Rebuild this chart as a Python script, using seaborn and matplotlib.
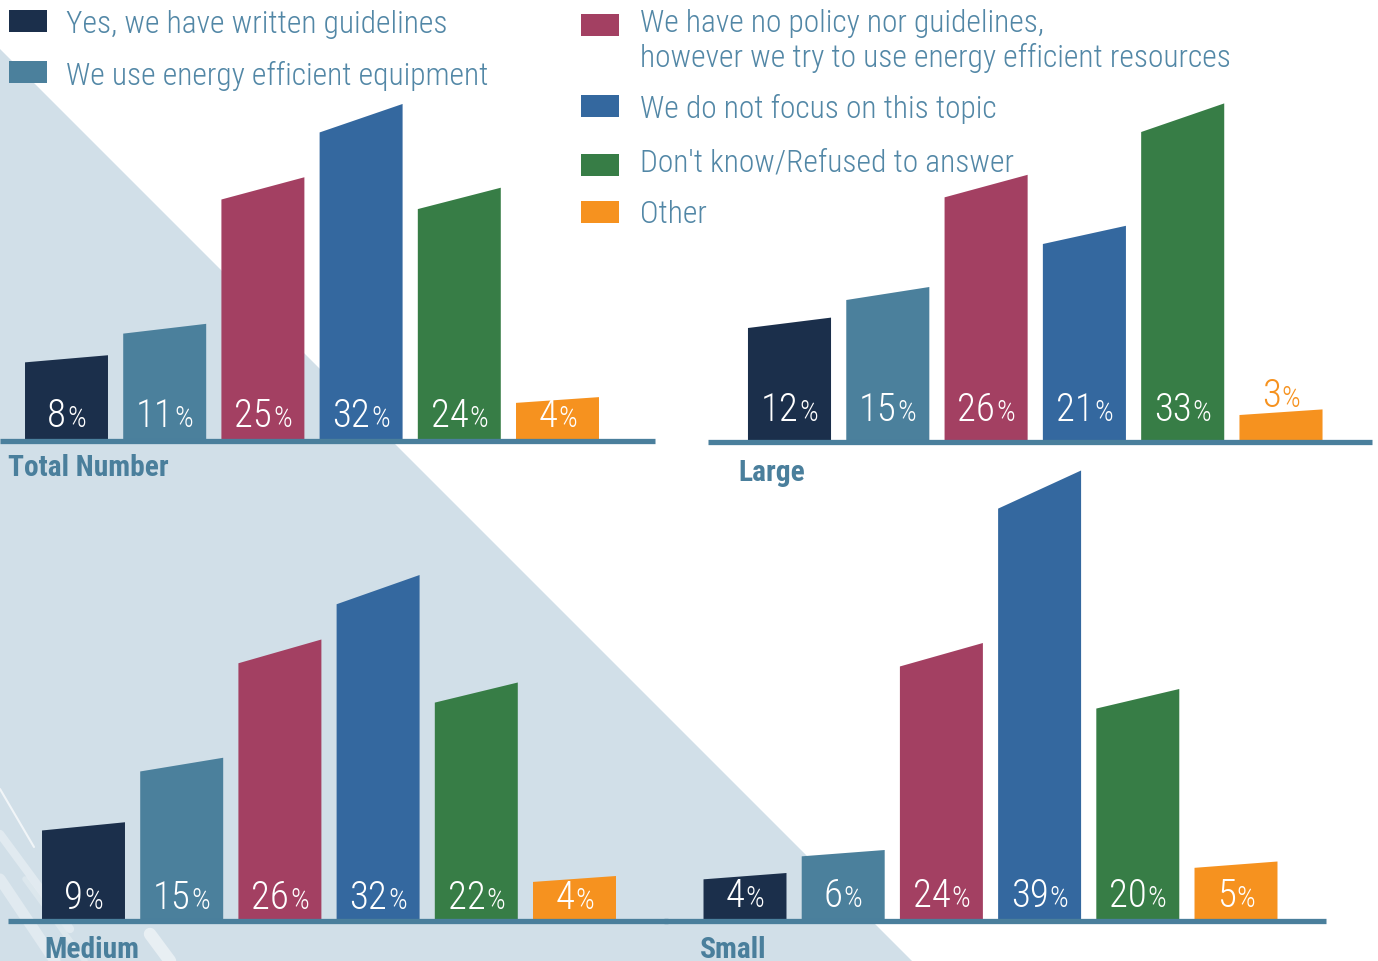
import matplotlib
matplotlib.use("Agg")
import matplotlib.pyplot as plt
import seaborn as sns
import pandas as pd
from matplotlib import font_manager as fm
from matplotlib.patches import Polygon, Rectangle
from matplotlib.lines import Line2D

# ---------------- data ----------------
categories = [
    "Yes, we have written guidelines",
    "We use energy efficient equipment",
    "We have no policy nor guidelines,\nhowever we try to use energy efficient resources",
    "We do not focus on this topic",
    "Don't know/Refused to answer",
    "Other",
]
total_values = [8, 11, 25, 32, 24, 4]
large_values = [12, 15, 26, 21, 33, 3]
medium_values = [9, 15, 26, 32, 22, 4]
small_values = [4, 6, 24, 39, 20, 5]
panel_titles = ["Total Number", "Large", "Medium", "Small"]

colors = ["#1b2f4b", "#4b809c", "#a34062", "#34689f", "#377d46", "#f6921f"]
TEXT_C = "#5287a6"
TITLE_C = "#4a7f9c"
BG_C = "#d1dfe8"
LINE_C = "#4a7f9c"

W, H = 1378, 962

sns.set_theme(style="white")
names = {f.name for f in fm.fontManager.ttflist}
FAM = "Roboto Condensed" if "Roboto Condensed" in names else "Roboto"
plt.rcParams["font.family"] = [FAM, "DejaVu Sans"]

fig = plt.figure(figsize=(W / 100, H / 100), dpi=100)
fig.patch.set_facecolor("white")

# background layer (pixel coordinates)
bg = fig.add_axes([0, 0, 1, 1], zorder=0)
bg.set_xlim(0, W)
bg.set_ylim(H, 0)
bg.axis("off")
bg.add_patch(Polygon([(0, 50), (912, 962), (0, 962)], closed=True,
                     facecolor=BG_C, edgecolor="none", zorder=0))
# faint decorative streaks, bottom-left
for (x0, y0, x1, y1, a, lw) in [(0, 790, 34, 848, 0.7, 1.5), (0, 835, 70, 930, 0.35, 6),
                                (0, 880, 55, 962, 0.35, 8), (25, 880, 85, 962, 0.25, 4),
                                (150, 935, 170, 962, 0.5, 9)]:
    bg.add_line(Line2D([x0, x1], [y0, y1], color="white", lw=lw, alpha=a, zorder=1,
                       solid_capstyle="round"))

# panels
panels = [
    dict(values=total_values, title=panel_titles[0], c0=66.5, pitch=98.2, base=440, ppp=10.47,
         line=(0, 655), line_y=442, title_xy=(8, 476), lab_off=13),
    dict(values=large_values, title=panel_titles[1], c0=789.5, pitch=98.3, base=441, ppp=10.2,
         line=(708, 1372), line_y=443, title_xy=(738, 481), lab_off=20),
    dict(values=medium_values, title=panel_titles[2], c0=83.5, pitch=98.2, base=920, ppp=10.75,
         line=(8, 668), line_y=922, title_xy=(44, 958), lab_off=11),
    dict(values=small_values, title=panel_titles[3], c0=745.0, pitch=98.2, base=920, ppp=11.5,
         line=(664, 1326), line_y=922, title_xy=(700, 958), lab_off=13),
]

YMAX = 42
bar_info = []
for P in panels:
    left = P["c0"] - 0.5 * P["pitch"]
    width = 6 * P["pitch"]
    height = P["ppp"] * YMAX
    ax = fig.add_axes([left / W, (H - P["base"]) / H, width / W, height / H], zorder=2)
    ax.patch.set_alpha(0)
    df = pd.DataFrame({"category": categories, "value": P["values"]})
    sns.barplot(data=df, x="category", y="value", hue="category", palette=colors,
                width=0.845, saturation=1, legend=False, ax=ax)
    ax.set_xlim(-0.5, 5.5)
    ax.set_ylim(0, YMAX)
    ax.axis("off")
    bars = sorted([p for p in ax.patches if isinstance(p, Rectangle)], key=lambda p: p.get_x())
    tops = []
    for p, v in zip(bars, P["values"]):
        x, w, h = p.get_x(), p.get_width(), p.get_height()
        s = max(0.55, 0.085 * h)
        poly = Polygon([(x, 0), (x + w, 0), (x + w, h), (x, h - s)], closed=True,
                       facecolor=p.get_facecolor(), edgecolor="none", zorder=2)
        p.set_visible(False)
        ax.add_patch(poly)
        tops.append((x + w / 2, h))
    x0, x1 = P["line"]
    ax.axhline(-(P["line_y"] - P["base"]) / P["ppp"], xmin=(x0 - left) / width,
               xmax=(x1 - left) / width, color=LINE_C, lw=3.8, clip_on=False, zorder=3,
               solid_capstyle="butt")
    bar_info.append((P, ax, tops))

# overlay layer for all texts and legend
ov = fig.add_axes([0, 0, 1, 1], zorder=5)
ov.set_xlim(0, W)
ov.set_ylim(H, 0)
ov.axis("off")
ov.patch.set_alpha(0)

left_leg = [(categories[0], colors[0], 11, 33), (categories[1], colors[1], 62, 85)]
right_leg = [(categories[2], colors[2], 15, 33), (categories[3], colors[3], 96, 118),
             (categories[4], colors[4], 155, 171), (categories[5], colors[5], 202, 223)]
leg_texts = []
for items, sx, tx in [(left_leg, 9, 66), (right_leg, 581, 640)]:
    for lab, col, sy, base in items:
        ov.add_patch(Rectangle((sx, sy), 38, 22, facecolor=col, edgecolor="none", zorder=2))
        t = ov.text(tx, base, lab, color=TEXT_C, fontsize=21, fontweight="light",
                    ha="left", va="baseline", linespacing=1.18, zorder=3)
        if "\n" in lab:
            t.set_va("top")
            t.set_y(base - 22)
        leg_texts.append(t)

NUM_FS = 28
PCT_FS = 21
label_items = []
title_texts = []
for P, ax, tops in bar_info:
    tt = ov.text(P["title_xy"][0], P["title_xy"][1], P["title"], color=TITLE_C,
                 fontsize=21, fontweight="bold", ha="left", va="baseline", zorder=3)
    title_texts.append(tt)
    for (xc, h), v, col in zip(tops, P["values"], colors):
        px, py = ax.transData.transform((xc, h))
        if v < 4:
            yb = H - py - 3
            c = col
        else:
            yb = P["base"] - P["lab_off"]
            c = "white"
        tn = ov.text(0, yb, str(v), color=c, fontsize=NUM_FS, fontweight="light",
                     ha="left", va="baseline", zorder=4)
        tp = ov.text(0, yb, "%", color=c, fontsize=PCT_FS, fontweight="light",
                     ha="left", va="baseline", zorder=4)
        label_items.append((tn, tp, px))

# fit font sizes to reference widths
fig.canvas.draw()
r = fig.canvas.get_renderer()
ref = leg_texts[2]
fac = 589.0 / ref.get_window_extent(r).width
for t in leg_texts:
    t.set_fontsize(t.get_fontsize() * fac)
ref.set_y(33 - 22 * fac)
tfac = 161.0 / title_texts[0].get_window_extent(r).width
for t in title_texts:
    t.set_fontsize(t.get_fontsize() * tfac)
fig.canvas.draw()
r = fig.canvas.get_renderer()
for tn, tp, cx in label_items:
    wn = tn.get_window_extent(r).width
    wp = tp.get_window_extent(r).width
    gap = 1
    start = cx - (wn + gap + wp) / 2
    tn.set_x(start)
    tp.set_x(start + wn + gap)

fig.savefig("out.png", dpi=100, facecolor="white")
